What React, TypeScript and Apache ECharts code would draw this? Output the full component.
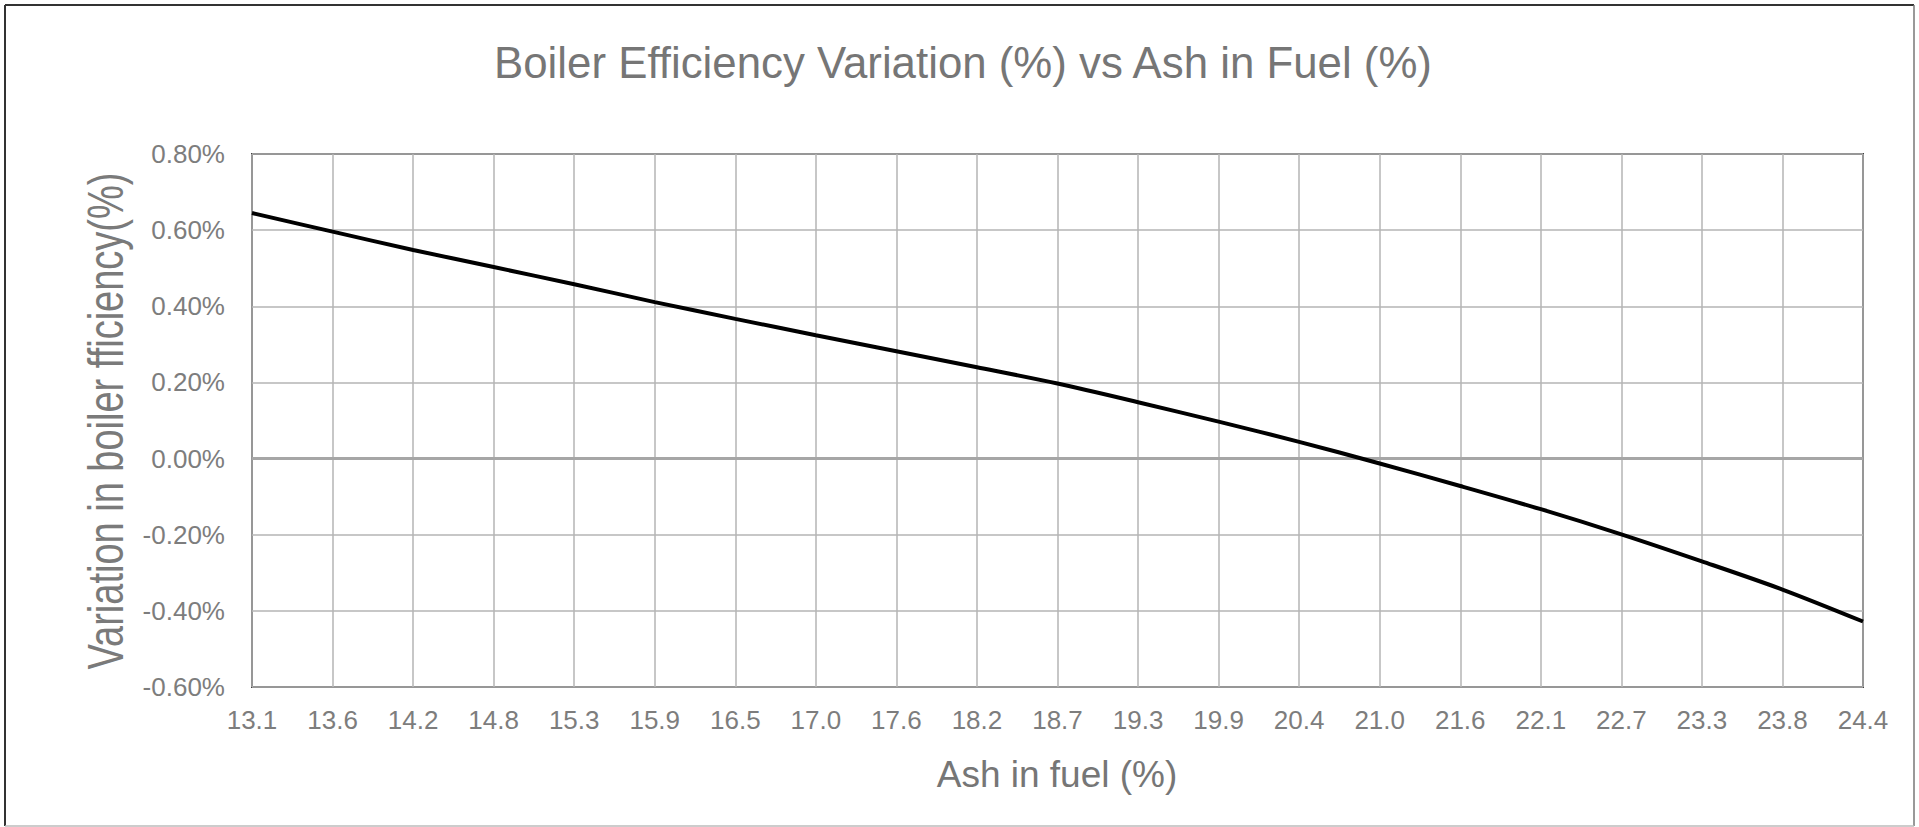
import React, { useEffect, useRef } from "react";
import * as echarts from "echarts";

const categories = ["13.1", "13.6", "14.2", "14.8", "15.3", "15.9", "16.5", "17.0", "17.6", "18.2", "18.7", "19.3", "19.9", "20.4", "21.0", "21.6", "22.1", "22.7", "23.3", "23.8", "24.4"];
// Variation in boiler efficiency, in percent
const efficiencyVariation = [0.645, 0.596, 0.548, 0.503, 0.458, 0.411, 0.367, 0.324, 0.282, 0.24, 0.197, 0.148, 0.097, 0.044, -0.013, -0.072, -0.133, -0.199, -0.27, -0.344, -0.428];

const chartTitle = "Boiler Efficiency Variation (%) vs Ash in Fuel (%)";
const xTitle = "Ash in fuel (%)";
const yTitle = "Variation in boiler fficiency(%)";
const yMin = -0.6;
const yMax = 0.8;
const yStep = 0.2;

const FONT = "'Liberation Sans', Arial, Helvetica, sans-serif";

export default function App() {
  const ref = useRef<HTMLDivElement>(null);
  useEffect(() => {
    if (!ref.current) return;
    const chart = echarts.init(ref.current, null, { renderer: "svg" });
    chart.setOption({
      animation: false,
      backgroundColor: "#ffffff",
      grid: {
        left: 252,
        right: 56,
        top: 154,
        bottom: 140,
        show: true,
        borderColor: "#404040",
        borderWidth: 2,
        backgroundColor: "transparent",
      },
      graphic: [
        { type: "line", shape: { x1: 5, y1: 5, x2: 1914, y2: 5 }, style: { stroke: "#333", lineWidth: 2 } },
        { type: "line", shape: { x1: 5, y1: 5, x2: 5, y2: 826 }, style: { stroke: "#333", lineWidth: 2 } },
        { type: "line", shape: { x1: 1914, y1: 5, x2: 1914, y2: 826 }, style: { stroke: "#777", lineWidth: 1.5 } },
        { type: "line", shape: { x1: 5, y1: 826, x2: 1914, y2: 826 }, style: { stroke: "#bbb", lineWidth: 1.5 } },
        {
          type: "text",
          x: 963,
          y: 62,
          style: { text: chartTitle, fill: "#767676", font: `43.8px ${FONT}`, textAlign: "center", textVerticalAlign: "middle" },
        },
        {
          type: "text",
          x: 1057,
          y: 774,
          style: { text: xTitle, fill: "#767676", font: `37px ${FONT}`, textAlign: "center", textVerticalAlign: "middle" },
        },
        {
          type: "text",
          x: 106,
          y: 421,
          rotation: Math.PI / 2,
          scaleY: 1.29,
          style: { text: yTitle, fill: "#7a7a7a", font: `38px ${FONT}`, textAlign: "center", textVerticalAlign: "middle" },
        },
      ],
      xAxis: {
        type: "category",
        data: categories,
        boundaryGap: false,
        axisLine: { show: false },
        axisTick: { show: false },
        axisLabel: { interval: 0, fontSize: 26, color: "#7d7d7d", fontFamily: FONT, margin: 20 },
        splitLine: { show: true, interval: 0, lineStyle: { color: "#b4b4b4", width: 1.5 } },
      },
      yAxis: {
        type: "value",
        min: yMin,
        max: yMax,
        interval: yStep,
        axisLine: { show: false },
        axisTick: { show: false },
        axisLabel: {
          fontSize: 26,
          color: "#7d7d7d",
          fontFamily: FONT,
          margin: 27,
          formatter: (v: number) => `${v.toFixed(2)}%`,
        },
        splitLine: { show: true, lineStyle: { color: "#b4b4b4", width: 1.5 } },
      },
      series: [
        {
          type: "line",
          data: efficiencyVariation,
          z: 1,
          silent: true,
          showSymbol: false,
          symbol: "none",
          lineStyle: { opacity: 0, width: 0 },
          markLine: {
            silent: true,
            symbol: "none",
            label: { show: false },
            lineStyle: { color: "#a6a6a6", width: 3, type: "solid" },
            data: [{ yAxis: 0 }],
          },
        },
        {
          type: "line",
          data: efficiencyVariation,
          z: 5,
          smooth: 0.3,
          showSymbol: false,
          symbol: "none",
          lineStyle: { color: "#000000", width: 4 },
        },
      ],
    });
    return () => chart.dispose();
  }, []);
  return <div ref={ref} style={{ position: "absolute", left: 0, top: 0, width: 1919, height: 827 }} />;
}
